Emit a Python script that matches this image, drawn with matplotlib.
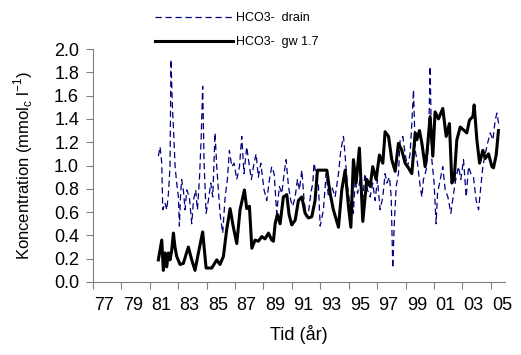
import numpy as np
import matplotlib
matplotlib.use("Agg")
import matplotlib.pyplot as plt

plt.rcParams['font.family'] = ['Liberation Sans', 'DejaVu Sans']

# ---- data (decimal year, mmolc/l) ----
drain_year = [1981.60, 1981.72, 1981.84, 1981.91, 1982.07, 1982.19, 1982.31, 1982.42,
              1982.49, 1982.59, 1982.66, 1982.78, 1982.89, 1983.01, 1983.08, 1983.17,
              1983.24, 1983.36, 1983.48, 1983.60, 1983.78, 1983.95, 1984.07, 1984.23,
              1984.35, 1984.49, 1984.61, 1984.72, 1984.82, 1984.96, 1985.12, 1985.29,
              1985.43, 1985.59, 1985.71, 1985.94, 1986.13, 1986.30, 1986.46, 1986.60,
              1986.77, 1986.93, 1987.12, 1987.31, 1987.47, 1987.63, 1987.82, 1988.01,
              1988.15, 1988.29, 1988.48, 1988.64, 1988.81, 1989.04, 1989.23, 1989.42,
              1989.58, 1989.75, 1989.93, 1990.12, 1990.29, 1990.45, 1990.59, 1990.76,
              1990.92, 1991.06, 1991.23, 1991.39, 1991.53, 1991.70, 1991.86, 1992.00,
              1992.16, 1992.33, 1992.47, 1992.56, 1992.70, 1992.87,
              1992.99, 1993.22, 1993.41, 1993.57, 1993.81, 1994.04, 1994.28, 1994.44,
              1994.63, 1994.75, 1994.91, 1995.10, 1995.22, 1995.33, 1995.45, 1995.62,
              1995.80, 1995.99, 1996.15, 1996.32, 1996.51, 1996.69, 1996.86, 1997.02,
              1997.21, 1997.40, 1997.56, 1997.68, 1997.87, 1997.99, 1998.10, 1998.20,
              1998.34, 1998.50, 1998.62, 1998.81, 1998.97, 1999.14, 1999.32, 1999.44,
              1999.56, 1999.68, 1999.84, 2000.03, 2000.15, 2000.26, 2000.45, 2000.62,
              2000.73, 2000.85, 2001.01, 2001.15, 2001.25, 2001.44, 2001.62, 2001.79,
              2001.98, 2002.19, 2002.38, 2002.56, 2002.73, 2002.89, 2003.08, 2003.27,
              2003.43, 2003.60, 2003.78, 2003.97, 2004.14, 2004.25, 2004.44, 2004.61,
              2004.77, 2004.96, 2005.15, 2005.31, 2005.43, 2005.55]
drain_val = [1.08, 1.16, 1.02, 0.62, 0.68, 0.62, 0.76, 0.99,
             1.91, 1.50, 1.33, 0.99, 0.85, 0.73, 0.48, 0.76,
             0.88, 0.79, 0.62, 0.79, 0.73, 0.50, 0.70, 0.79,
             0.62, 0.88, 1.22, 1.68, 1.02, 0.59, 0.70, 0.85,
             0.73, 1.28, 0.99, 0.59, 0.42, 0.73, 0.88, 1.13,
             0.99, 1.02, 0.88, 0.99, 1.25, 0.93, 1.16, 0.99,
             0.88, 0.99, 1.10, 0.90, 1.02, 0.79, 0.70, 0.88,
             0.99, 0.93, 0.59, 0.82, 0.76, 0.93, 1.05, 0.82,
             0.70, 0.65, 0.73, 0.88, 0.79, 0.96, 0.70, 0.56,
             0.59, 0.76, 0.85, 1.02, 0.93, 0.82,
             0.48, 0.62, 0.93, 0.73, 0.82, 0.73, 0.93, 1.13,
             1.25, 1.08, 0.82, 0.65, 0.76, 0.59, 0.88, 0.76,
             0.88, 0.73, 0.93, 0.79, 0.73, 0.85, 0.70, 0.88,
             0.62, 0.73, 0.93, 0.85, 0.90, 0.73, 0.12, 0.48,
             0.82, 0.93, 1.22, 1.25, 1.10, 0.99, 1.10, 1.36,
             1.65, 1.13, 1.02, 0.82, 0.73, 0.88, 0.96, 1.19,
             1.85, 1.05, 0.85, 0.50, 0.76, 0.88, 0.99, 0.79,
             0.73, 0.59, 0.76, 0.90, 0.99, 0.88, 1.05, 0.73,
             0.99, 0.93, 0.90, 0.70, 0.62, 0.76, 0.99, 1.10,
             1.19, 1.28, 1.22, 1.39, 1.45, 1.36]

gw_year = [1981.60, 1981.84, 1981.95, 1982.07, 1982.19, 1982.30, 1982.42, 1982.54,
           1982.66, 1982.77, 1982.89, 1983.13, 1983.36, 1983.71, 1983.95, 1984.18,
           1984.42, 1984.72, 1984.96, 1985.36, 1985.71, 1985.94, 1986.18, 1986.41,
           1986.65, 1986.88, 1987.12, 1987.35, 1987.66, 1987.82, 1988.01, 1988.18,
           1988.41, 1988.64, 1988.88, 1989.11, 1989.35, 1989.58, 1989.70, 1989.82,
           1989.98, 1990.17, 1990.40, 1990.64, 1990.80, 1990.99, 1991.23, 1991.46,
           1991.70, 1991.93, 1992.16, 1992.40, 1992.63, 1992.80, 1993.46,
           1993.69, 1993.92, 1994.28, 1994.51, 1994.75, 1994.98, 1995.15, 1995.33,
           1995.52, 1995.75, 1995.99, 1996.27, 1996.51, 1996.69, 1996.93, 1997.16,
           1997.40, 1997.56, 1997.80, 1998.03, 1998.27, 1998.50, 1998.74, 1998.97,
           1999.20, 1999.44, 1999.68, 1999.79, 1999.98, 2000.15, 2000.38, 2000.50,
           2000.73, 2000.92, 2001.08, 2001.32, 2001.62, 2001.86, 2002.09, 2002.26,
           2002.42, 2002.61, 2002.85, 2003.13, 2003.31, 2003.50, 2003.74, 2003.83,
           2004.02, 2004.21, 2004.44, 2004.61, 2004.84, 2005.08, 2005.19, 2005.38,
           2005.54]
gw_val = [0.19, 0.36, 0.10, 0.25, 0.13, 0.25, 0.19, 0.27,
          0.42, 0.30, 0.22, 0.15, 0.16, 0.30, 0.19, 0.10,
          0.25, 0.43, 0.12, 0.12, 0.19, 0.15, 0.22, 0.45,
          0.63, 0.47, 0.33, 0.62, 0.79, 0.63, 0.65, 0.29,
          0.36, 0.35, 0.39, 0.37, 0.42, 0.36, 0.35, 0.50,
          0.58, 0.50, 0.73, 0.75, 0.58, 0.49, 0.53, 0.70,
          0.73, 0.59, 0.55, 0.56, 0.70, 0.96, 0.96,
          0.76, 0.62, 0.47, 0.79, 0.96, 0.65, 0.47, 1.05,
          0.85, 1.15, 0.52, 0.88, 0.82, 0.99, 0.88, 1.09,
          1.02, 1.29, 1.25, 1.05, 0.95, 1.19, 1.13, 1.02,
          0.98, 0.93, 1.28, 1.22, 1.30, 1.19, 0.99, 1.10,
          1.42, 1.08, 1.46, 1.40, 1.49, 1.25, 1.36, 0.85,
          0.88, 1.22, 1.33, 1.30, 1.28, 1.39, 1.42, 1.52,
          1.22, 1.02, 1.13, 1.06, 1.10, 0.99, 0.98, 1.09,
          1.30]

year_ticks = list(range(1977, 2006, 2))
year_labels = ['%02d' % (y % 100) for y in year_ticks]
y_ticks = [0.0, 0.2, 0.4, 0.6, 0.8, 1.0, 1.2, 1.4, 1.6, 1.8, 2.0]

fig = plt.figure(figsize=(5.21, 3.55), dpi=100)
ax = fig.add_axes([93/521, 1 - 282/355, (505 - 93)/521, (282 - 49)/355])

ax.plot(drain_year, drain_val, color='#000080', lw=0.9, ls=(0, (5, 3)),
        label='HCO3-  drain')
ax.plot(gw_year, gw_val, color='black', lw=2.2, label='HCO3-  gw 1.7')

ax.set_xlim(1977, 2006)
ax.set_ylim(0, 2.0)

# tick marks at the years, labels shifted a bit right like the original
ax.set_xticks(year_ticks)
ax.set_xticklabels([])
ax.set_xticks([y + 0.8 for y in year_ticks], minor=True)
ax.set_xticklabels(year_labels, minor=True, fontsize=13)
ax.tick_params(axis='x', which='minor', length=0, pad=11)
ax.tick_params(axis='x', which='major', length=5, color='#808080', direction='out')

ax.set_yticks(y_ticks)
ax.set_yticklabels(['%.1f' % v for v in y_ticks], fontsize=13)
ax.tick_params(axis='y', length=5, color='#808080', direction='out', pad=5)

for s in ['top', 'right']:
    ax.spines[s].set_visible(False)
for s in ['left', 'bottom']:
    ax.spines[s].set_color('#808080')

ax.set_xlabel('Tid (år)', fontsize=13, labelpad=8)
ax.set_ylabel('Koncentration (mmol$_\\mathregular{c}$ l$^\\mathregular{-1}$)', fontsize=12, labelpad=14)

ax.legend(loc='upper left', bbox_to_anchor=(155/521, 1 - 12/355),
          bbox_transform=fig.transFigure, frameon=False, fontsize=9,
          handlelength=6.2, handletextpad=0.3, labelspacing=1.0,
          borderpad=0, borderaxespad=0)

fig.savefig('out.png', dpi=100)
